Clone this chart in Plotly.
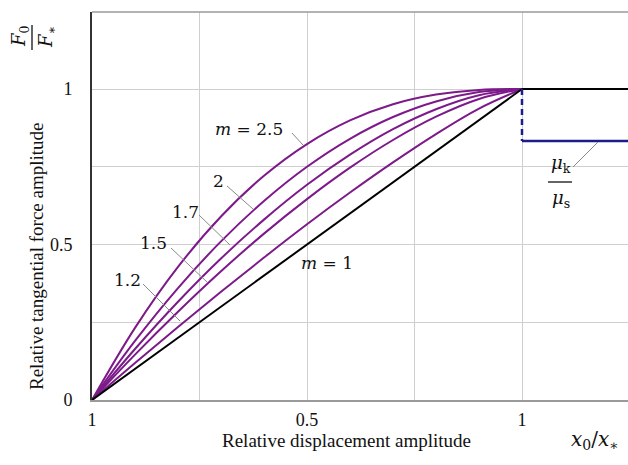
import plotly.graph_objects as go

# ---------------- data ----------------
x_vals = [0.0, 0.1, 0.2, 0.3, 0.4, 0.5, 0.6, 0.7, 0.8, 0.9, 1.0]
m_labels = ["1.2", "1.5", "1.7", "2", "2.5"]
y_m12 = [0.0, 0.119, 0.235, 0.348, 0.458, 0.565, 0.667, 0.764, 0.855, 0.937, 1.0]
y_m15 = [0.0, 0.146, 0.284, 0.414, 0.535, 0.646, 0.747, 0.836, 0.911, 0.968, 1.0]
y_m17 = [0.0, 0.164, 0.316, 0.455, 0.580, 0.692, 0.789, 0.871, 0.935, 0.980, 1.0]
y_m20 = [0.0, 0.190, 0.360, 0.510, 0.640, 0.750, 0.840, 0.910, 0.960, 0.990, 1.0]
y_m25 = [0.0, 0.232, 0.428, 0.590, 0.721, 0.823, 0.899, 0.951, 0.982, 0.997, 1.0]
curves = [y_m12, y_m15, y_m17, y_m20, y_m25]

linear_x = [0.0, 1.0]
linear_y = [0.0, 1.0]
sat_x = [1.0, 1.25]
sat_y = [1.0, 1.0]
mu_ratio = 0.833
drop_x = [1.0, 1.0]
drop_y = [1.0, mu_ratio]
kin_x = [1.0, 1.25]
kin_y = [mu_ratio, mu_ratio]

x_tick_vals = [0, 0.25, 0.5, 0.75, 1.0]
x_tick_text = ["1", "", "0.5", "", "1"]
y_tick_vals = [0, 0.25, 0.5, 0.75, 1.0]
y_tick_text = ["0", "", "0.5", "", "1"]

# ---------------- layout helpers ----------------
W, H = 628, 465
L, R, T, B = 92, 0, 12, 65
PW, PH = W - L - R, H - T - B
X_MAX = PW / 430.0
Y_MAX = PH / 311.0
FONT = "Liberation Serif"
MATH = "DejaVu Serif"
PURPLE = "#7d1a8a"
NAVY = "#1c1c8c"
GRID = "#cfcfcf"
NB = "\u00a0"


def px(xp):
    return (xp - L) / PW


def py(yp):
    return (H - B - yp) / PH


def text_at(txt, xp, yp, size=18, angle=0, family=FONT):
    return dict(text=txt, x=px(xp), y=py(yp), xref="paper", yref="paper",
                xanchor="center", yanchor="middle", textangle=angle,
                showarrow=False, font=dict(family=family, size=size, color="#111"))


fig = go.Figure()

for yv in curves:
    fig.add_trace(go.Scatter(x=x_vals, y=yv, mode="lines",
                             line=dict(color=PURPLE, width=2, shape="spline", smoothing=1.0),
                             hoverinfo="skip", showlegend=False))

fig.add_trace(go.Scatter(x=linear_x, y=linear_y, mode="lines",
                         line=dict(color="black", width=2), showlegend=False))
fig.add_trace(go.Scatter(x=sat_x, y=sat_y, mode="lines",
                         line=dict(color="black", width=2), showlegend=False, cliponaxis=False))
fig.add_trace(go.Scatter(x=drop_x, y=drop_y, mode="lines",
                         line=dict(color=NAVY, width=2.5, dash="6px,4px"), showlegend=False))
fig.add_trace(go.Scatter(x=kin_x, y=kin_y, mode="lines",
                         line=dict(color=NAVY, width=2.5), showlegend=False))

annotations = []
shapes = []

# curve labels with leader lines (pixel positions)
label_specs = [
    ("<i>m</i>" + NB + "=" + NB + "2.5", 249, 129, (292, 133), (303, 145)),
    ("2", 218, 181, (227, 186), (253, 209)),
    ("1.7", 185, 212, (199, 215), (230, 245)),
    ("1.5", 153, 243, (171, 248), (207, 282)),
    ("1.2", 127, 280, (143, 284), (180, 321)),
    ("<i>m</i>" + NB + "=" + NB + "1", 327, 263, None, None),
]
for txt, tx, ty, p0, p1 in label_specs:
    annotations.append(text_at(txt, tx, ty, 17, family=MATH))
    if p0 is not None:
        shapes.append(dict(type="line", xref="paper", yref="paper",
                           x0=px(p0[0]), y0=py(p0[1]), x1=px(p1[0]), y1=py(p1[1]),
                           line=dict(color="#8a8a8a", width=1)))

# mu_k / mu_s fraction label
annotations.append(text_at("<i>μ</i><sub>k</sub>", 561, 164, 18, family=MATH))
annotations.append(text_at("<i>μ</i><sub>s</sub>", 561, 199, 18, family=MATH))
shapes.append(dict(type="line", xref="paper", yref="paper", x0=px(548), y0=py(182), x1=px(572), y1=py(182),
                   line=dict(color="#111", width=1.3)))
shapes.append(dict(type="line", xref="paper", yref="paper", x0=px(573), y0=py(167), x1=px(598), y1=py(142),
                   line=dict(color="#8a8a8a", width=1)))

# F0 / F* rotated fraction
annotations.append(text_at("<i>F</i><sub>0</sub>", 20, 36, 18, -90, MATH))
annotations.append(text_at("<i>F</i><sub>∗</sub>", 47, 37, 18, -90, MATH))
shapes.append(dict(type="line", xref="paper", yref="paper", x0=px(32), y0=py(25), x1=px(32), y1=py(50),
                   line=dict(color="#111", width=1.3)))

# axis titles
annotations.append(text_at("Relative tangential force amplitude", 36, 257, 19, -90))
annotations.append(text_at("Relative displacement amplitude", 346, 440, 19))
annotations.append(text_at("<i>x</i><sub>0</sub>/<i>x</i><sub>∗</sub>", 595, 440, 20, family=MATH))

# top border
shapes.append(dict(type="line", xref="paper", yref="paper", x0=0, y0=1, x1=1, y1=1,
                   line=dict(color="#9a9a9a", width=1.5)))

fig.update_layout(
    width=W, height=H,
    margin=dict(l=L, r=R, t=T, b=B),
    paper_bgcolor="white", plot_bgcolor="white",
    showlegend=False,
    annotations=annotations,
    shapes=shapes,
    xaxis=dict(range=[0, X_MAX], tickvals=x_tick_vals, ticktext=x_tick_text,
               showgrid=True, gridcolor=GRID, gridwidth=1, zeroline=False,
               showline=True, linecolor="#9a9a9a", linewidth=1.5, ticks="",
               tickfont=dict(family=FONT, size=18, color="#111"), ticklabelstandoff=3),
    yaxis=dict(range=[0, Y_MAX], tickvals=y_tick_vals, ticktext=y_tick_text,
               showgrid=True, gridcolor=GRID, gridwidth=1, zeroline=False,
               showline=True, linecolor="#333", linewidth=2, ticks="",
               tickfont=dict(family=FONT, size=18, color="#111"), ticklabelstandoff=14),
)

fig.write_html("out.html")
